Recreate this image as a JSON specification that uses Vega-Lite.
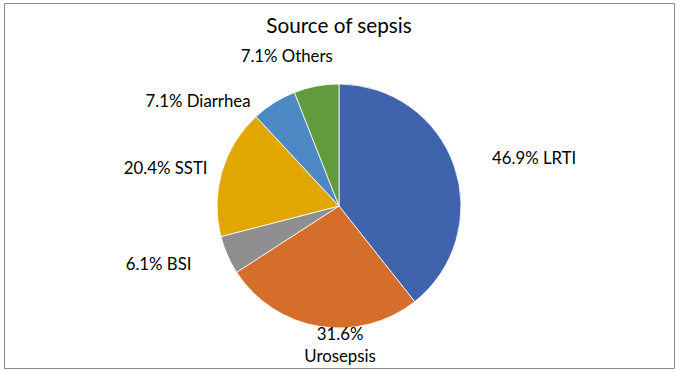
{
  "$schema": "https://vega.github.io/schema/vega-lite/v6.json",
  "width": 680,
  "height": 373,
  "autosize": {"type": "fit", "contains": "padding"},
  "padding": {"top": 3, "left": 4, "right": 6, "bottom": 5},
  "background": "white",
  "config": {
    "view": {"stroke": "#8c8c8c", "strokeWidth": 1},
    "font": "Lato"
  },
  "title": {
    "text": "Source of sepsis",
    "fontSize": 20.7,
    "fontWeight": "normal",
    "font": "Lato",
    "color": "#000000",
    "anchor": "middle",
    "offset": -35
  },
  "data": {
    "values": [
      {"n": 1, "source": "LRTI", "pct": 46.9, "label": "46.9% LRTI"},
      {"n": 2, "source": "Urosepsis", "pct": 31.6, "label": "31.6%\nUrosepsis"},
      {"n": 3, "source": "BSI", "pct": 6.1, "label": "6.1% BSI"},
      {"n": 4, "source": "SSTI", "pct": 20.4, "label": "20.4% SSTI"},
      {"n": 5, "source": "Diarrhea", "pct": 7.1, "label": "7.1% Diarrhea"},
      {"n": 6, "source": "Others", "pct": 7.1, "label": "7.1% Others"}
    ]
  },
  "encoding": {
    "theta": {"field": "pct", "type": "quantitative", "stack": true},
    "order": {"field": "n", "type": "quantitative"}
  },
  "layer": [
    {
      "mark": {"type": "point", "opacity": 0, "size": 0, "strokeWidth": 0},
      "encoding": {
        "theta": null,
        "order": null,
        "x": {"datum": 0, "type": "quantitative", "axis": null},
        "y": {"datum": 0, "type": "quantitative", "axis": null}
      }
    },
    {
      "mark": {"type": "arc", "outerRadius": 122, "stroke": "#ffffff", "strokeWidth": 0.8, "yOffset": 20.5, "clip": true},
      "encoding": {
        "color": {
          "field": "source",
          "type": "nominal",
          "scale": {
            "domain": ["LRTI", "Urosepsis", "BSI", "SSTI", "Diarrhea", "Others"],
            "range": ["#3F64AD", "#D56E2B", "#8F8F8F", "#E2A600", "#4C88C4", "#629A3F"]
          },
          "legend": null
        }
      }
    },
    {
      "mark": {"type": "text", "radius": 162, "align": "left", "baseline": "middle", "fontSize": 16.8, "yOffset": 20.5, "dy": 6, "color": "#000000", "clip": true},
      "encoding": {"text": {"condition": {"test": "datum.source === 'LRTI'", "field": "label"}, "value": ""}}
    },
    {
      "mark": {"type": "text", "radius": 141, "align": "center", "baseline": "middle", "fontSize": 16.8, "yOffset": 20.5, "dx": 24, "dy": -10, "lineBreak": "\n", "lineHeight": 22, "color": "#000000", "clip": true},
      "encoding": {"text": {"condition": {"test": "datum.source === 'Urosepsis'", "field": "label"}, "value": ""}}
    },
    {
      "mark": {"type": "text", "radius": 160, "align": "right", "baseline": "middle", "fontSize": 16.8, "yOffset": 20.5, "dx": -1, "dy": -5, "color": "#000000", "clip": true},
      "encoding": {"text": {"condition": {"test": "datum.source === 'BSI'", "field": "label"}, "value": ""}}
    },
    {
      "mark": {"type": "text", "radius": 137, "align": "right", "baseline": "middle", "fontSize": 16.8, "yOffset": 20.5, "dy": 1, "color": "#000000", "clip": true},
      "encoding": {"text": {"condition": {"test": "datum.source === 'SSTI'", "field": "label"}, "value": ""}}
    },
    {
      "mark": {"type": "text", "radius": 123, "align": "right", "baseline": "middle", "fontSize": 16.8, "yOffset": 20.5, "dx": -23, "color": "#000000", "clip": true},
      "encoding": {"text": {"condition": {"test": "datum.source === 'Diarrhea'", "field": "label"}, "value": ""}}
    },
    {
      "mark": {"type": "text", "radius": 152, "align": "center", "baseline": "middle", "fontSize": 16.8, "yOffset": 20.5, "dx": -24, "color": "#000000", "clip": true},
      "encoding": {"text": {"condition": {"test": "datum.source === 'Others'", "field": "label"}, "value": ""}}
    }
  ]
}
